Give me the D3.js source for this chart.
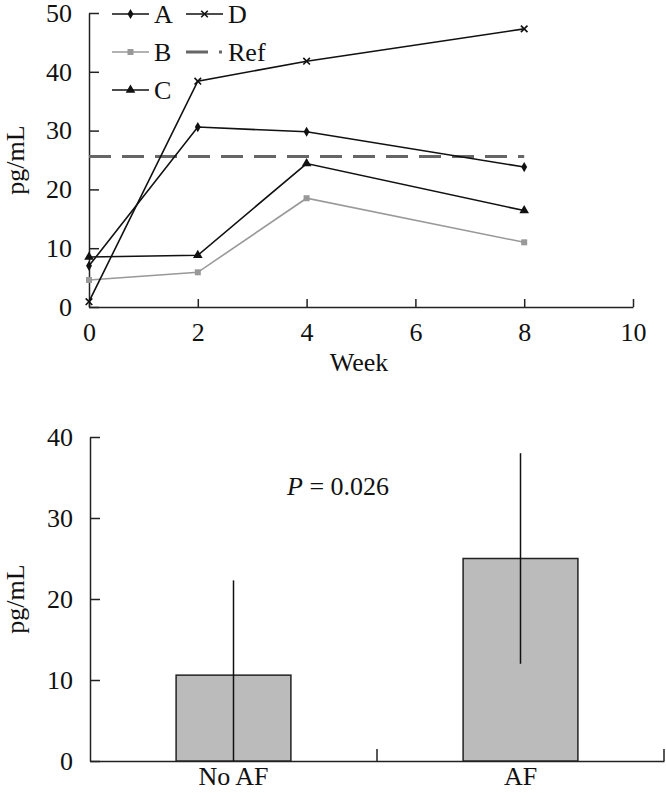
<!DOCTYPE html>
<html>
<head>
<meta charset="utf-8">
<script src="https://cdn.jsdelivr.net/npm/d3@7"></script>
<style>
  body { margin: 0; background: #fff; }
  svg text { font-family: "Liberation Serif", "Times New Roman", serif; font-size: 26px; fill: #111; }
</style>
</head>
<body>
<div id="chart"></div>
<script>
// top panel: weekly values
const weeks = [0, 2, 4, 8];
const seriesA = [7.0, 30.6, 29.8, 23.8];
const seriesB = [4.6, 5.9, 18.5, 11.0];
const seriesC = [8.5, 8.8, 24.4, 16.4];
const seriesD = [0.9, 38.4, 41.8, 47.3];
const refValue = 25.6;
const weekTicks = [0, 2, 4, 6, 8, 10];
const topTicks = [0, 10, 20, 30, 40, 50];

// bottom panel: group means with SD
const groups = ["No AF", "AF"];
const groupMeans = [10.6, 25.0];
const groupSds = [11.7, 13.0];
const bottomTicks = [0, 10, 20, 30, 40];

const width = 666;
const height = 793;
const fontSize = 26;

const svg = d3.select("#chart")
  .append("svg")
  .attr("width", width)
  .attr("height", height);

const styleAxis = (g) => {
  g.selectAll("path, line").attr("stroke", "#222").attr("stroke-width", 1.5);
  g.selectAll("text").attr("font-size", fontSize).attr("fill", "#111");
};

// ---------- top line chart ----------
const x1 = d3.scaleLinear().domain([0, 10]).range([89, 633]);
const y1 = d3.scaleLinear().domain([0, 50]).range([307, 13]);

svg.append("g")
  .attr("transform", `translate(0, ${y1(0)})`)
  .call(d3.axisBottom(x1).tickValues(weekTicks).tickSizeInner(-8).tickSizeOuter(0).tickPadding(16))
  .call(styleAxis);

svg.append("g")
  .attr("transform", `translate(${x1(0)}, 0)`)
  .call(d3.axisLeft(y1).tickValues(topTicks).tickSizeInner(-10).tickSizeOuter(0).tickPadding(17))
  .call(styleAxis);

svg.append("text")
  .attr("x", 359)
  .attr("y", 371)
  .attr("text-anchor", "middle")
  .text("Week");

svg.append("text")
  .attr("transform", `translate(24, ${(y1(0) + y1(50)) / 2}) rotate(-90)`)
  .attr("text-anchor", "middle")
  .text("pg/mL");

// reference line
svg.append("line")
  .attr("x1", x1(0))
  .attr("x2", x1(8))
  .attr("y1", y1(refValue))
  .attr("y2", y1(refValue))
  .attr("stroke", "#666")
  .attr("stroke-width", 3)
  .attr("stroke-dasharray", "22,11");

const series = [
  { name: "A", values: seriesA, color: "#111", symbol: d3.symbolDiamond, size: 30, filled: true },
  { name: "B", values: seriesB, color: "#999", symbol: d3.symbolSquare, size: 36, filled: true },
  { name: "C", values: seriesC, color: "#111", symbol: d3.symbolTriangle, size: 40, filled: true },
  { name: "D", values: seriesD, color: "#111", symbol: d3.symbolX, size: 30, filled: false }
];

const line = d3.line()
  .x((d) => x1(d.week))
  .y((d) => y1(d.value));

series.forEach((s) => {
  const pts = weeks.map((w, i) => ({ week: w, value: s.values[i] }));
  svg.append("path")
    .datum(pts)
    .attr("d", line)
    .attr("fill", "none")
    .attr("stroke", s.color)
    .attr("stroke-width", 1.6);

  svg.selectAll(null)
    .data(pts)
    .enter()
    .append("path")
    .attr("transform", (d) => `translate(${x1(d.week)}, ${y1(d.value)})`)
    .attr("d", d3.symbol().type(s.symbol).size(s.size))
    .attr("fill", s.filled ? s.color : "none")
    .attr("stroke", s.filled ? "none" : s.color)
    .attr("stroke-width", 1.6);
});

// legend, two columns
const legendItems = [
  { s: series[0], col: 0, row: 0 },
  { s: series[1], col: 0, row: 1 },
  { s: series[2], col: 0, row: 2 },
  { s: series[3], col: 1, row: 0 },
  { s: null, name: "Ref", col: 1, row: 1 }
];
const colX = [112, 186];
const rowY = [14, 52, 90];

legendItems.forEach((it) => {
  const lx = colX[it.col];
  const ly = rowY[it.row];
  const g = svg.append("g");
  if (it.s) {
    g.append("line")
      .attr("x1", lx).attr("x2", lx + 37)
      .attr("y1", ly).attr("y2", ly)
      .attr("stroke", it.s.color)
      .attr("stroke-width", 1.6);
    g.append("path")
      .attr("transform", `translate(${lx + 18.5}, ${ly})`)
      .attr("d", d3.symbol().type(it.s.symbol).size(it.s.size))
      .attr("fill", it.s.filled ? it.s.color : "none")
      .attr("stroke", it.s.filled ? "none" : it.s.color)
      .attr("stroke-width", 1.6);
  } else {
    g.append("line")
      .attr("x1", lx).attr("x2", lx + 36)
      .attr("y1", ly).attr("y2", ly)
      .attr("stroke", "#666")
      .attr("stroke-width", 3)
      .attr("stroke-dasharray", "22,11");
  }
  g.append("text")
    .attr("x", lx + 42)
    .attr("y", ly + 9)
    .text(it.s ? it.s.name : it.name);
});

// ---------- bottom bar chart ----------
const x2 = d3.scaleBand().domain(groups).range([90, 664]);
const y2 = d3.scaleLinear().domain([0, 40]).range([761, 437]);
const barW = x2.bandwidth() * 0.4;

svg.append("g")
  .attr("transform", `translate(90, 0)`)
  .call(d3.axisLeft(y2).tickValues(bottomTicks).tickSizeInner(-10).tickSizeOuter(0).tickPadding(17))
  .call(styleAxis);

const gx2 = svg.append("g")
  .attr("transform", `translate(0, ${y2(0)})`)
  .call(d3.axisBottom(x2).tickSize(0).tickPadding(6));
gx2.selectAll(".tick line").remove();

// ticks sit on the band boundaries
gx2.selectAll(".bound")
  .data(groups.slice(1).map((g) => x2(g)).concat([x2.range()[1]]))
  .enter()
  .append("line")
  .attr("x1", (d) => d).attr("x2", (d) => d)
  .attr("y1", 0).attr("y2", -12);
gx2.call(styleAxis);

const barData = groups.map((g, i) => ({ group: g, mean: groupMeans[i], sd: groupSds[i] }));

svg.selectAll(".bar")
  .data(barData)
  .enter()
  .append("rect")
  .attr("x", (d) => x2(d.group) + (x2.bandwidth() - barW) / 2)
  .attr("y", (d) => y2(d.mean))
  .attr("width", barW)
  .attr("height", (d) => y2(0) - y2(d.mean))
  .attr("fill", "#bbbbbb")
  .attr("stroke", "#222")
  .attr("stroke-width", 1.5);

svg.selectAll(".err")
  .data(barData)
  .enter()
  .append("line")
  .attr("x1", (d) => x2(d.group) + x2.bandwidth() / 2)
  .attr("x2", (d) => x2(d.group) + x2.bandwidth() / 2)
  .attr("y1", (d) => y2(d.mean + d.sd))
  .attr("y2", (d) => y2(Math.max(0, d.mean - d.sd)))
  .attr("stroke", "#111")
  .attr("stroke-width", 1.5);

svg.append("text")
  .attr("transform", `translate(24, ${(y2(0) + y2(40)) / 2}) rotate(-90)`)
  .attr("text-anchor", "middle")
  .text("pg/mL");

const pText = svg.append("text")
  .attr("x", 287)
  .attr("y", 495);
pText.append("tspan").attr("font-style", "italic").text("P");
pText.append("tspan").text(" = 0.026");
</script>
</body>
</html>
